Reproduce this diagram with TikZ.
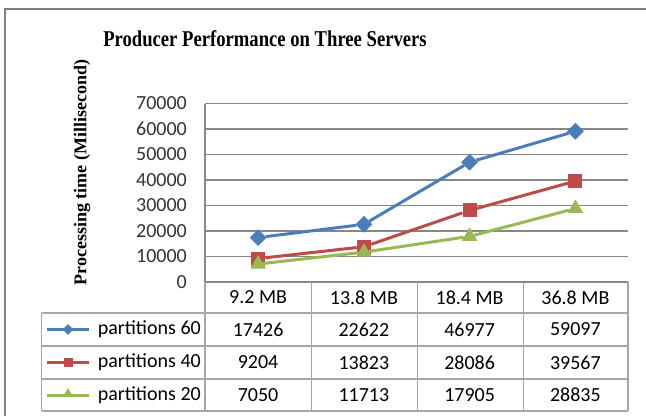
\documentclass[tikz,border=0pt]{standalone}
\usepackage{fontspec}
\usepackage{graphicx}
\setmainfont{Carlito}
\newfontfamily\titlefont{Liberation Serif}
\usetikzlibrary{shapes.geometric}

\definecolor{blueline}{HTML}{4A7EBB}
\definecolor{redline}{HTML}{BE4B48}
\definecolor{greenline}{HTML}{98B954}
\definecolor{gridgray}{HTML}{878787}
\definecolor{tablegray}{HTML}{A6A6A6}
\definecolor{framegray}{HTML}{808080}

\tikzset{
  val/.style={font=\fontsize{20}{24}\selectfont, inner sep=0pt},
  tick/.style={val, text=black!80, anchor=east},
  mkdia/.style={diamond, fill=blueline, inner sep=0pt, minimum size=17pt},
  mksq/.style={rectangle, fill=redline, inner sep=0pt, minimum size=14pt},
  mktri/.style={regular polygon, regular polygon sides=3, fill=greenline, inner sep=0pt, minimum size=18pt},
  serie/.style={line width=3pt},
}

\begin{document}
\begin{tikzpicture}[x=1pt,y=-1pt]
  \useasboundingbox (0,0) rectangle (646,416);
  % outer frame
  \draw[framegray,line width=2pt] (5,416) -- (5,8.5) -- (646,8.5);

  % titles
  \node (title) at (265,39) {\titlefont\bfseries\fontsize{22.6}{26}\selectfont\scalebox{0.825}[1]{Producer Performance on Three Servers}};
  \node[rotate=90] (ytitle) at (82,172.5) {\titlefont\bfseries\fontsize{18}{22}\selectfont Processing time (Millisecond)};

  % grid and value axis
  \foreach \k/\lab in {1/10000,2/20000,3/30000,4/40000,5/50000,6/60000,7/70000}
    \draw[gridgray,line width=1.2pt] (205,282-25.5*\k) -- (628,282-25.5*\k);
  \foreach \k/\lab in {0/0,1/10000,2/20000,3/30000,4/40000,5/50000,6/60000,7/70000}
    \node[tick] (t\k) at (187,282-25.5*\k) {\lab};
  \draw[gridgray,line width=1.2pt] (205,103.5) -- (205,282) -- (628,282);

  % data table
  \draw[tablegray,line width=1.2pt] (205,282) -- (205,411);
  \foreach \x in {311.75,417.5,523.25,628}
    \draw[tablegray,line width=1.2pt] (\x,282) -- (\x,411);
  \draw[tablegray,line width=1.2pt] (41.7,313) -- (41.7,411);
  \foreach \y in {313,346,379,411}
    \draw[tablegray,line width=1.2pt] (41.7,\y) -- (628,\y);

  \node[val] (h1) at (258.1,297.5) {9.2 MB};
  \node[val] (h2) at (363.9,297.5) {13.8 MB};
  \node[val] (h3) at (469.6,297.5) {18.4 MB};
  \node[val] (h4) at (575.4,297.5) {36.8 MB};

  \node[val] (c11) at (258.1,329.5) {17426};
  \node[val] (c12) at (363.9,329.5) {22622};
  \node[val] (c13) at (469.6,329.5) {46977};
  \node[val] (c14) at (575.4,329.5) {59097};
  \node[val] (c21) at (258.1,362.5) {9204};
  \node[val] (c22) at (363.9,362.5) {13823};
  \node[val] (c23) at (469.6,362.5) {28086};
  \node[val] (c24) at (575.4,362.5) {39567};
  \node[val] (c31) at (258.1,395) {7050};
  \node[val] (c32) at (363.9,395) {11713};
  \node[val] (c33) at (469.6,395) {17905};
  \node[val] (c34) at (575.4,395) {28835};

  % legend keys
  \node[val,anchor=east] (k60) at (201,329.5) {partitions 60};
  \node[val,anchor=east] (k40) at (201,362.5) {partitions 40};
  \node[val,anchor=east] (k20) at (201,395) {partitions 20};
  \coordinate (la60) at (47,329.5);
  \coordinate (lb60) at (89,329.5);
  \coordinate (la40) at (47,362.5);
  \coordinate (lb40) at (89,362.5);
  \coordinate (la20) at (47,395);
  \coordinate (lb20) at (89,395);
  \draw[serie,blueline] (la60) -- (lb60);
  \draw[serie,redline] (la40) -- (lb40);
  \draw[serie,greenline] (la20) -- (lb20);
  \node[mkdia,minimum size=11pt] (m60) at (68,329.5) {};
  \node[mksq,minimum size=9pt] (m40) at (68,362.5) {};
  \node[mktri,minimum size=12pt] (m20) at (68,394) {};

  % partitions 60 (values in thousands)
  \node[mkdia] (b1) at (258.1,282-2.55*17.426) {};
  \node[mkdia] (b2) at (363.9,282-2.55*22.622) {};
  \node[mkdia] (b3) at (469.6,282-2.55*46.977) {};
  \node[mkdia] (b4) at (575.4,282-2.55*59.097) {};
  \draw[serie,blueline] (b1) -- (b2) -- (b3) -- (b4);

  % partitions 40
  \node[mksq] (r1) at (258.1,282-2.55*9.204) {};
  \node[mksq] (r2) at (363.9,282-2.55*13.823) {};
  \node[mksq] (r3) at (469.6,282-2.55*28.086) {};
  \node[mksq] (r4) at (575.4,282-2.55*39.567) {};
  \draw[serie,redline] (r1) -- (r2) -- (r3) -- (r4);

  % partitions 20
  \node[mktri] (g1) at (258.1,282-2.55*7.050) {};
  \node[mktri] (g2) at (363.9,282-2.55*11.713) {};
  \node[mktri] (g3) at (469.6,282-2.55*17.905) {};
  \node[mktri] (g4) at (575.4,282-2.55*28.835) {};
  \draw[serie,greenline] (g1) -- (g2) -- (g3) -- (g4);
\end{tikzpicture}
\end{document}
